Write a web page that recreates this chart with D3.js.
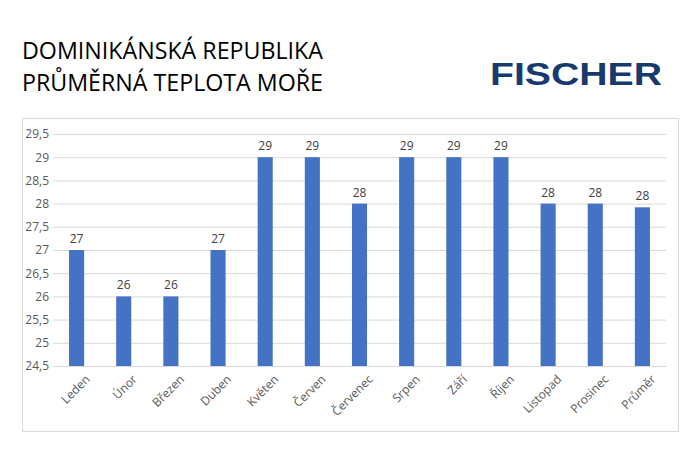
<!DOCTYPE html>
<html>
<head>
<meta charset="utf-8">
<script src="https://cdn.jsdelivr.net/npm/d3@7/dist/d3.min.js"></script>
<style>
    body { margin: 0; background: #fff; }
    svg { font-family: "Open Sans", sans-serif; }
</style>
</head>
<body>
<script>
var months = ['Leden', 'Únor', 'Březen', 'Duben', 'Květen', 'Červen', 'Červenec',
    'Srpen', 'Září', 'Říjen', 'Listopad', 'Prosinec', 'Průměr'];
var temps = [27, 26, 26, 27, 29, 29, 28, 29, 29, 29, 28, 28, 27.92];
var yTicks = [24.5, 25, 25.5, 26, 26.5, 27, 27.5, 28, 28.5, 29, 29.5];

var svg = d3.select('body').append('svg')
    .attr('width', 700)
    .attr('height', 450);

// title
var title = svg.append('g').attr('class', 'title');
title.append('text')
    .attr('x', 22).attr('y', 59)
    .attr('font-size', 23).attr('fill', '#000')
    .attr('textLength', 301).attr('lengthAdjust', 'spacingAndGlyphs')
    .text('DOMINIKÁNSKÁ REPUBLIKA');
title.append('text')
    .attr('x', 22).attr('y', 91)
    .attr('font-size', 23).attr('fill', '#000')
    .attr('textLength', 301).attr('lengthAdjust', 'spacingAndGlyphs')
    .text('PRŮMĚRNÁ TEPLOTA MOŘE');

// logo
svg.append('text')
    .attr('x', 490).attr('y', 85)
    .attr('font-size', 32).attr('font-weight', 800)
    .attr('font-family', '"Liberation Sans", Arial, sans-serif')
    .attr('fill', '#173a6e')
    .attr('textLength', 172).attr('lengthAdjust', 'spacingAndGlyphs')
    .text('FISCHER');

// chart frame
svg.append('rect')
    .attr('x', 22.5).attr('y', 118.5)
    .attr('width', 656).attr('height', 313)
    .attr('fill', 'none')
    .attr('stroke', '#d9d9d9');

var margin = {left: 53, right: 666, top: 134, bottom: 366};

var x = d3.scaleBand()
    .domain(months)
    .range([margin.left, margin.right])
    .paddingInner(0.68)
    .paddingOuter(0.34);

var y = d3.scaleLinear()
    .domain([24.5, 29.5])
    .range([margin.bottom, margin.top]);

// gridlines + y labels
var yAxis = svg.append('g')
    .attr('transform', 'translate(' + margin.left + ',0)')
    .call(d3.axisLeft(y)
        .tickValues(yTicks)
        .tickSize(-(margin.right - margin.left))
        .tickPadding(4)
        .tickFormat(function(d) { return String(d).replace('.', ','); }));
yAxis.select('.domain').remove();
yAxis.selectAll('.tick line').attr('stroke', '#d9d9d9');
yAxis.selectAll('.tick text')
    .attr('fill', '#595959')
    .attr('font-size', 12)
    .attr('font-family', '"Open Sans", sans-serif');

// bars
svg.append('g').selectAll('rect')
    .data(temps)
    .enter().append('rect')
    .attr('x', function(d, i) { return x(months[i]); })
    .attr('y', function(d) { return y(d); })
    .attr('width', x.bandwidth())
    .attr('height', function(d) { return margin.bottom - y(d); })
    .attr('fill', '#4472c4');

// data labels
svg.append('g').selectAll('text')
    .data(temps)
    .enter().append('text')
    .attr('x', function(d, i) { return x(months[i]) + x.bandwidth() / 2; })
    .attr('y', function(d) { return y(d) - 7; })
    .attr('text-anchor', 'middle')
    .attr('font-size', 12)
    .attr('fill', '#404040')
    .text(function(d) { return d3.format('.0f')(d); });

// x axis
var xAxis = svg.append('g')
    .attr('transform', 'translate(0,' + margin.bottom + ')')
    .call(d3.axisBottom(x).tickSize(0).tickPadding(10));
xAxis.select('.domain').attr('stroke', '#d9d9d9');
xAxis.selectAll('.tick text')
    .attr('fill', '#595959')
    .attr('font-size', 12)
    .attr('font-family', '"Open Sans", sans-serif')
    .attr('text-anchor', 'end')
    .attr('dy', '0.35em')
    .attr('transform', 'translate(4,4) rotate(-45)');
</script>
</body>
</html>
